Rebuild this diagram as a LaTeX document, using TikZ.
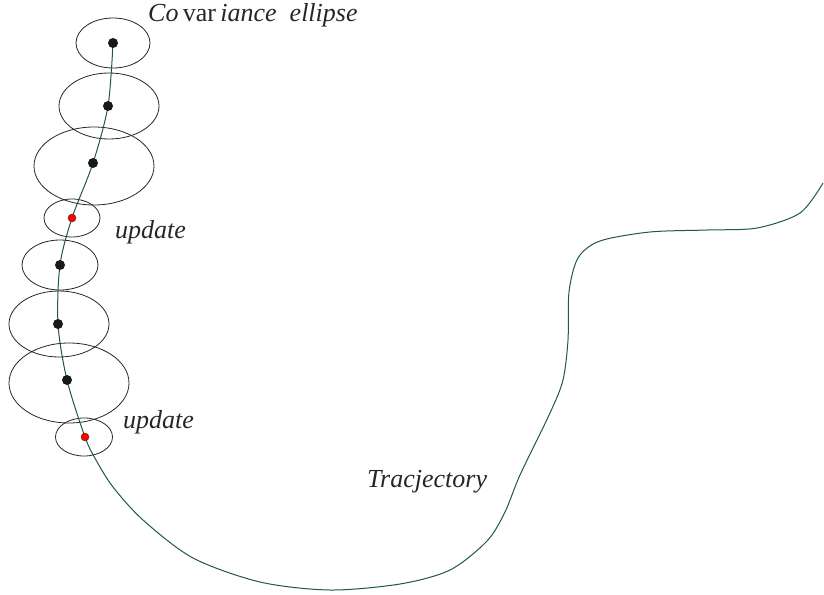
\documentclass[tikz,border=0pt]{standalone}
\usepackage{fontspec}
\setmainfont{Liberation Serif}
\usetikzlibrary{shapes.geometric}
\definecolor{traj}{HTML}{1E5A3C}
\tikzset{
  ell/.style={draw=black!85, ellipse, inner sep=0pt, line width=0.8pt},
  bdot/.style={circle, fill=black!90, inner sep=0pt, minimum size=10pt},
  rdot/.style={circle, fill=red, draw=black!80, line width=0.4pt, inner sep=0pt, minimum size=8pt},
  lbl/.style={font=\fontsize{26}{30}\selectfont\itshape, text=black!85, inner sep=0pt},
  trajline/.style={draw=traj, line width=1pt}
}
\begin{document}
\begin{tikzpicture}[x=1pt,y=-1pt]
\useasboundingbox (0,0) rectangle (824,594);
% path points
\coordinate (p1) at (113,43);
\coordinate (p2) at (108,106);
\coordinate (p3) at (93,163);
\coordinate (p4) at (72,218);
\coordinate (p5) at (60,265);
\coordinate (p6) at (58,324);
\coordinate (p7) at (67,380);
\coordinate (p8) at (85,437);
% ellipses
\node[ell, minimum width=74pt, minimum height=50pt] (e1) at (113,43) {};
\node[ell, minimum width=100pt, minimum height=66pt] (e2) at (109,106) {};
\node[ell, minimum width=120pt, minimum height=78pt] (e3) at (94,166) {};
\node[ell, minimum width=56pt, minimum height=38pt] (e4) at (72,218) {};
\node[ell, minimum width=76pt, minimum height=50pt] (e5) at (60,265) {};
\node[ell, minimum width=100pt, minimum height=66pt] (e6) at (59,324) {};
\node[ell, minimum width=120pt, minimum height=80pt] (e7) at (69,383) {};
\node[ell, minimum width=57pt, minimum height=38pt] (e8) at (84,437) {};
% trajectory
\draw[trajline] plot[smooth, tension=0.5] coordinates {(p1) (p2) (p3) (p4) (p5) (p6) (p7) (p8)
  (96,460) (113,487) (143,520) (193,558) (260,582) (330,590) (400,584) (450,570)
  (487,541) (505,512) (520,475) (550,413) (563,380) (568,340) (569,292)
  (578,258) (600,241) (650,232) (707,230) (757,228) (800,213) (823,183)};
% dots
\node[bdot] (d1) at (p1) {};
\node[bdot] (d2) at (p2) {};
\node[bdot] (d3) at (p3) {};
\node[rdot] (d4) at (p4) {};
\node[bdot] (d5) at (p5) {};
\node[bdot] (d6) at (p6) {};
\node[bdot] (d7) at (p7) {};
\node[rdot] (d8) at (p8) {};
% labels
\node[lbl, anchor=west] (cov) at (148,15) {Co\,\upshape var\,\itshape iance\ \ ellipse};
\node[lbl, anchor=west] (up1) at (115,232) {update};
\node[lbl, anchor=west] (up2) at (123,422) {update};
\node[lbl, anchor=west] (tr) at (367,482) {Tracjectory};
\end{tikzpicture}
\end{document}
